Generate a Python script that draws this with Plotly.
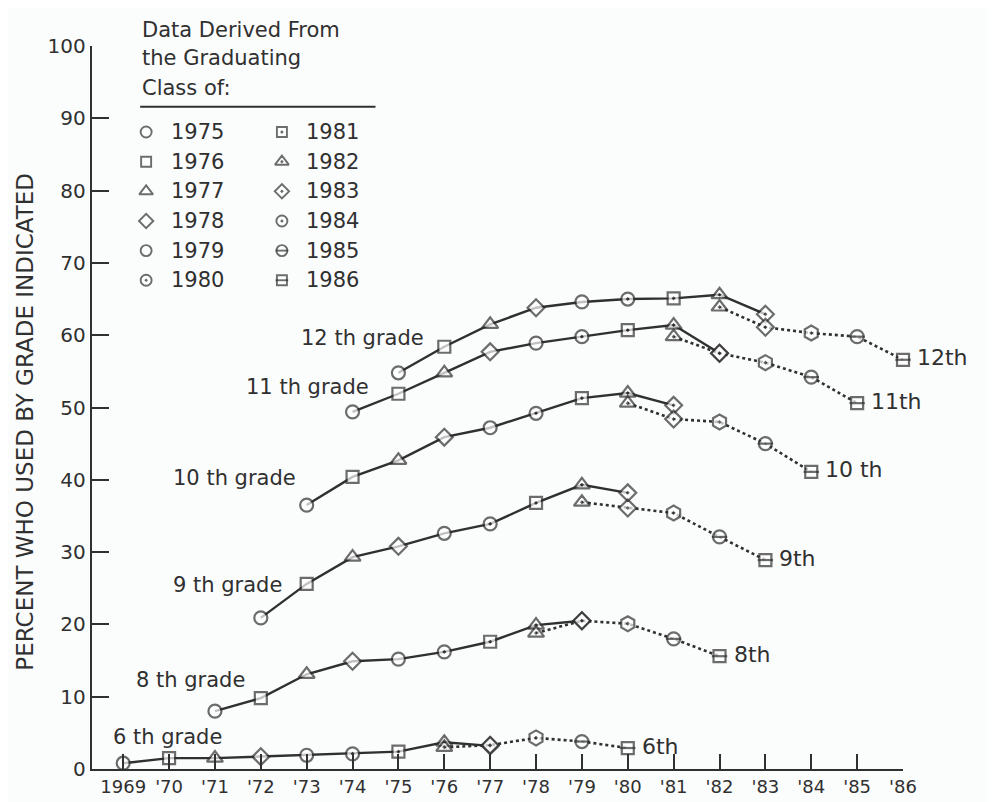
import plotly.graph_objects as go

# ---------------- data ----------------
tick_years = list(range(1969, 1987))
tick_text = ["1969", "'70", "'71", "'72", "'73", "'74", "'75", "'76", "'77",
             "'78", "'79", "'80", "'81", "'82", "'83", "'84", "'85", "'86"]
y_ticks = [0, 10, 20, 30, 40, 50, 60, 70, 80, 90, 100]

grade_numbers = [12, 11, 10, 9, 8, 6]
solid_classes = [1975, 1976, 1977, 1978, 1979, 1980, 1981, 1982, 1983]
dotted_classes = [1982, 1983, 1984, 1985, 1986]

solid_12th = [54.8, 58.4, 61.5, 63.8, 64.6, 65.0, 65.1, 65.6, 62.9]
solid_11th = [49.4, 51.9, 54.8, 57.7, 58.9, 59.8, 60.7, 61.4, 57.5]
solid_10th = [36.5, 40.4, 42.7, 45.9, 47.2, 49.2, 51.3, 52.0, 50.3]
solid_9th = [20.9, 25.6, 29.3, 30.8, 32.6, 33.9, 36.8, 39.3, 38.2]
solid_8th = [8.0, 9.8, 13.1, 14.9, 15.2, 16.2, 17.6, 19.9, 20.5]
solid_6th = [0.8, 1.5, 1.5, 1.7, 1.9, 2.1, 2.4, 3.7, 3.2]

dotted_12th = [63.9, 61.1, 60.3, 59.8, 56.6]
dotted_11th = [59.8, 57.5, 56.2, 54.2, 50.6]
dotted_10th = [50.6, 48.4, 48.0, 45.0, 41.1]
dotted_9th = [36.9, 36.1, 35.4, 32.1, 28.9]
dotted_8th = [18.8, 20.5, 20.1, 18.0, 15.6]
dotted_6th = [3.0, 3.3, 4.3, 3.8, 2.9]

left_labels = ["12 th grade", "11 th grade", "10 th grade", "9 th grade", "8 th grade", "6 th grade"]
right_labels = ["12th", "11th", "10 th", "9th", "8th", "6th"]
legend_classes = [1975, 1976, 1977, 1978, 1979, 1980, 1981, 1982, 1983, 1984, 1985, 1986]
legend_title = ["Data Derived From", "the Graduating", "Class of:"]

solid_series = [solid_12th, solid_11th, solid_10th, solid_9th, solid_8th, solid_6th]
dotted_series = [dotted_12th, dotted_11th, dotted_10th, dotted_9th, dotted_8th, dotted_6th]

# ---------------- styles ----------------
INK = "#303030"
BG = "#fbfcfc"
FONT = "DejaVu Sans"

symbol_of = {1975: "circle", 1976: "square", 1977: "triangle-up", 1978: "diamond",
             1979: "circle", 1980: "circle-dot", 1981: "square-dot",
             1982: "triangle-up-dot", 1983: "diamond-dot", 1984: "hexagon-dot",
             1985: "circle", 1986: "square"}
legend_symbol_of = dict(symbol_of)
legend_symbol_of[1984] = "circle-dot"
size_of = {"circle": 13, "square": 12, "triangle-up": 14, "diamond": 13,
           "circle-dot": 13, "square-dot": 12, "triangle-up-dot": 14,
           "diamond-dot": 13, "hexagon-dot": 15}
barred = {1985, 1986}

# left label anchor positions (data units, label right edge)
left_label_pos = [(1975.6, 59.6), (1974.4, 52.8), (1972.8, 40.2),
                  (1972.5, 25.4), (1971.7, 12.3), (1971.2, 4.4)]

fig = go.Figure()

for g, solid, dotted in zip(grade_numbers, solid_series, dotted_series):
    offset = 12 - g
    xs = [c - offset for c in solid_classes]
    xd = [c - offset for c in dotted_classes]
    sym_s = [symbol_of[c] for c in solid_classes]
    sym_d = [symbol_of[c] for c in dotted_classes]
    fig.add_trace(go.Scatter(
        x=xs, y=solid, mode="lines+markers", cliponaxis=False, showlegend=False,
        line=dict(color=INK, width=2.4),
        marker=dict(symbol=sym_s, size=[size_of[s] for s in sym_s], color="white",
                    line=dict(color=INK, width=2.2))))
    fig.add_trace(go.Scatter(
        x=xd, y=dotted, mode="lines+markers", cliponaxis=False, showlegend=False,
        line=dict(color=INK, width=2.6, dash="dot"),
        marker=dict(symbol=sym_d, size=[size_of.get(s, 13) for s in sym_d], color="white",
                    line=dict(color=INK, width=2.2))))
    fig.add_trace(go.Scatter(
        x=xd, y=dotted, mode="markers", cliponaxis=False, showlegend=False,
        marker=dict(symbol="line-ew", size=[11 if c in barred else 0 for c in dotted_classes],
                    line=dict(color=INK, width=2.2))))

annotations = []
for text, (lx, ly) in zip(left_labels, left_label_pos):
    annotations.append(dict(x=lx, y=ly, xref="x", yref="y", text=text, showarrow=False,
                            xanchor="right", yanchor="middle",
                            font=dict(family=FONT, size=21, color=INK)))

for g, dotted, text in zip(grade_numbers, dotted_series, right_labels):
    offset = 12 - g
    annotations.append(dict(x=dotted_classes[-1] - offset, y=dotted[-1], xref="x", yref="y",
                            text=text, showarrow=False, xanchor="left", yanchor="middle",
                            xshift=12, yshift=2,
                            font=dict(family=FONT, size=22, color=INK)))

# ---- legend block ----
leg_x0 = 1969.37
title_y = [1.022, 0.984, 0.942]
for t, ty in zip(legend_title, title_y):
    annotations.append(dict(x=leg_x0, y=ty, xref="x", yref="paper", text=t, showarrow=False,
                            xanchor="left", yanchor="middle",
                            font=dict(family=FONT, size=21, color=INK)))

col_marker_x = [1969.5, 1972.46]
col_text_x = [1970.0, 1972.95]
row_y0, row_dy = 88.1, 4.1
lx, ly, lsym, lsize, lbar = [], [], [], [], []
for i, c in enumerate(legend_classes):
    col, row = divmod(i, 6)
    x = col_marker_x[col]
    y = row_y0 - row * row_dy
    s = legend_symbol_of[c]
    lx.append(x)
    ly.append(y)
    lsym.append(s)
    lsize.append(size_of[s] - 2)
    lbar.append(9 if c in barred else 0)
    annotations.append(dict(x=col_text_x[col], y=y, xref="x", yref="y", text=str(c),
                            showarrow=False, xanchor="left", yanchor="middle",
                            font=dict(family=FONT, size=21, color=INK)))

fig.add_trace(go.Scatter(x=lx, y=ly, mode="markers", showlegend=False, cliponaxis=False,
                         marker=dict(symbol=lsym, size=lsize, color="white",
                                     line=dict(color=INK, width=1.9))))
fig.add_trace(go.Scatter(x=lx, y=ly, mode="markers", showlegend=False, cliponaxis=False,
                         marker=dict(symbol="line-ew", size=lbar,
                                     line=dict(color=INK, width=1.9))))

# y-axis title
annotations.append(dict(x=-0.083, y=0.48, xref="paper", yref="paper",
                        text="PERCENT WHO USED BY GRADE INDICATED", textangle=-90,
                        showarrow=False, xanchor="center", yanchor="middle",
                        font=dict(family=FONT, size=23, color=INK)))

# page body has an 8px margin: figure is sized/margined so the plot lands in place
fig.update_layout(
    width=980, height=794, autosize=False,
    margin=dict(l=84, r=85, t=38, b=33),
    paper_bgcolor=BG, plot_bgcolor=BG,
    showlegend=False,
    annotations=annotations,
    shapes=[dict(type="line", xref="x", yref="y", x0=leg_x0, x1=1974.5, y0=91.6, y1=91.6,
                 line=dict(color=INK, width=1.8))],
    xaxis=dict(range=[1968.32, 1986], tickvals=tick_years, ticktext=tick_text,
               automargin=False,
               showline=True, linecolor=INK, linewidth=2.4, showgrid=False, zeroline=False,
               ticks="inside", ticklen=15, tickwidth=2, tickcolor=INK,
               tickfont=dict(family=FONT, size=18, color=INK)),
    yaxis=dict(range=[0, 100], tickvals=y_ticks, automargin=False,
               showline=True, linecolor=INK, linewidth=2.4, showgrid=False, zeroline=False,
               ticks="inside", ticklen=17, tickwidth=2, tickcolor=INK,
               tickfont=dict(family=FONT, size=20, color=INK)),
)

fig.write_html("out.html")
